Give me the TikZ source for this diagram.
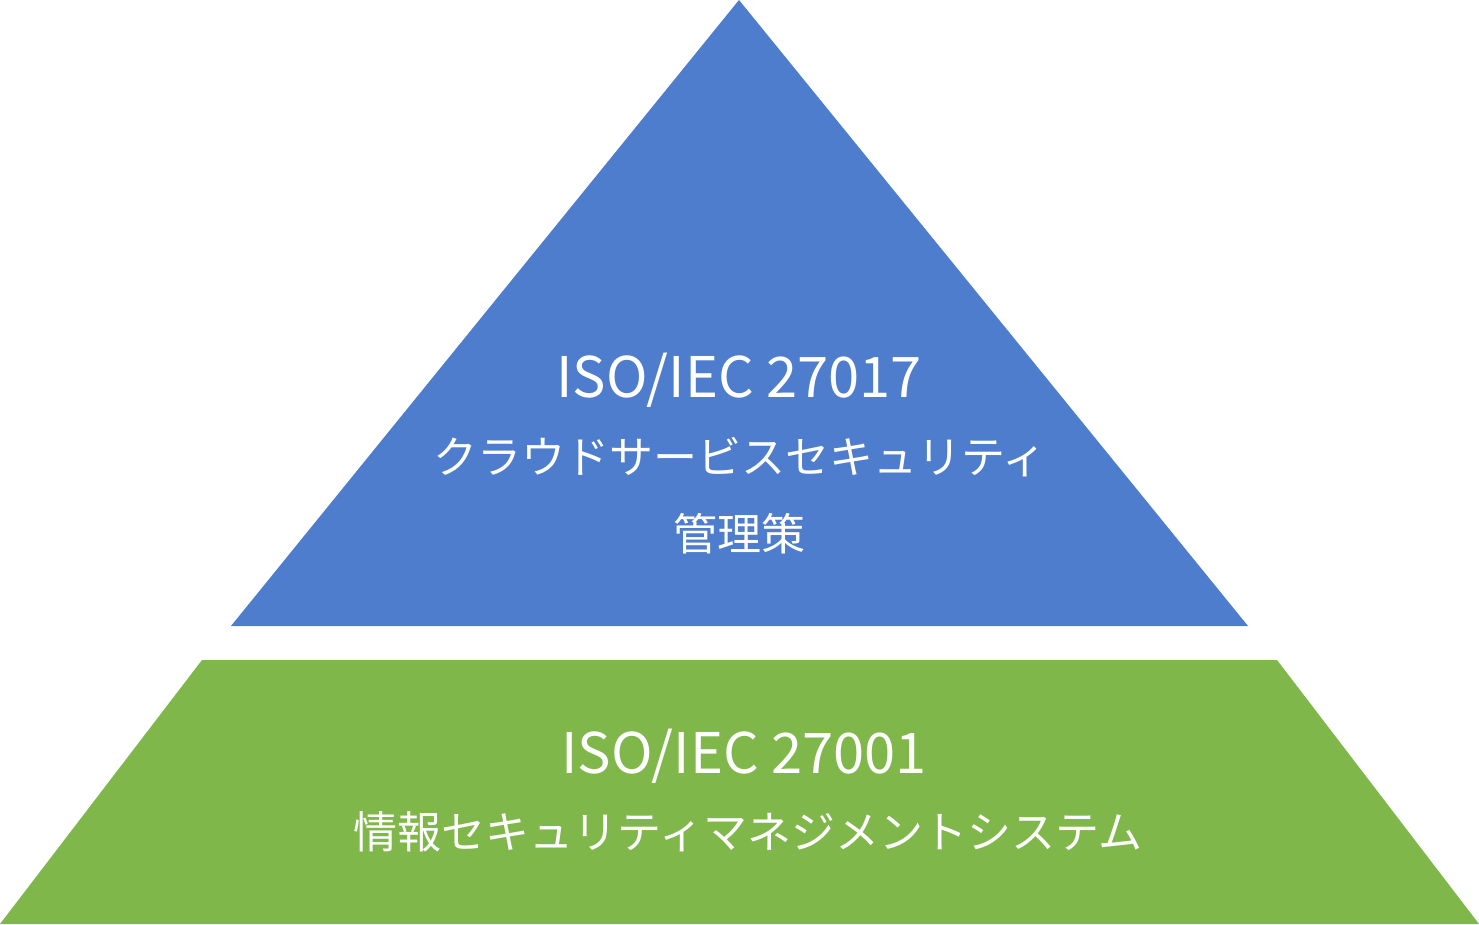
\documentclass[tikz,border=0pt]{standalone}
\usepackage{fontspec}
\setmainfont{Noto Sans CJK JP}
\usepackage{tikz}

\definecolor{topblue}{HTML}{4E7DCE}
\definecolor{basegreen}{HTML}{80B74A}

\begin{document}
\begin{tikzpicture}[x=1pt,y=1pt,
        label/.style={text=white, inner sep=0pt, anchor=base},
        latin/.style={label, font=\fontsize{56}{56}\selectfont},
        kana/.style={label, font=\fontsize{44}{44}\selectfont}]
        \useasboundingbox (0,0) rectangle (1479,924);

        % Layers
        \fill[topblue] (739,924) -- (1248,298) -- (231,298) -- cycle;
        \fill[basegreen] (202,264) -- (1277,264) -- (1479,0) -- (0,0) -- cycle;

        % Top label
        \node at (739,526) [latin] (T1) {ISO/IEC 27017};
        \node at (740,450) [kana] (T2) {クラウドサービスセキュリティ};
        \node at (739,373) [kana] (T3) {管理策};

        % Base label
        \node at (744,151) [latin] (B1) {ISO/IEC 27001};
        \node at (748,76) [kana] (B2) {情報セキュリティマネジメントシステム};

    \end{tikzpicture}
\end{document}
